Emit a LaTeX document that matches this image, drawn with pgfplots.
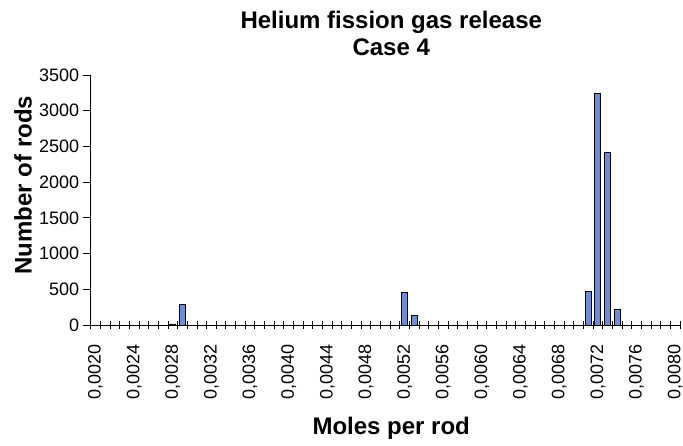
\documentclass[border=0pt]{standalone}
\usepackage{pgfplots}
\pgfplotsset{compat=1.18}
\usepackage{fontspec}
\setmainfont{Liberation Sans}

\definecolor{barblue}{RGB}{106,141,214}

% category index k stands for 0.0020 + k*0.0001 moles per rod
\pgfplotstableread{
k count
8 15
9 290
32 450
33 130
51 465
52 3240
53 2410
54 215
}\rods

\begin{document}
\begin{tikzpicture}
\begin{axis}[
    scale only axis,
    width=589.3pt, height=250pt,
    clip=false,
    xmin=-0.5, xmax=60.5,
    ymin=0, ymax=3500,
    ybar, bar width=0.62,
    axis x line=bottom, axis y line=left,
    axis line style={-, line width=0.9pt},
    xtick={-0.5,0.5,...,60.5},
    x tick label as interval,
    xticklabels={{0,0020},{},{},{},{0,0024},{},{},{},{0,0028},{},{},{},{0,0032},{},{},{},
                 {0,0036},{},{},{},{0,0040},{},{},{},{0,0044},{},{},{},{0,0048},{},{},{},
                 {0,0052},{},{},{},{0,0056},{},{},{},{0,0060},{},{},{},{0,0064},{},{},{},
                 {0,0068},{},{},{},{0,0072},{},{},{},{0,0076},{},{},{},{0,0080}},
    ytick={0,500,...,3500},
    xtick align=center, ytick align=outside,
    major tick length=8pt,
    tick style={black, line width=0.9pt},
    xticklabel shift=12pt,
    x tick label style={rotate=90, anchor=east, font=\fontsize{18}{20}\selectfont},
    y tick label style={font=\fontsize{18}{20}\selectfont},
    /pgf/number format/assume math mode=true,
    /pgf/number format/1000 sep={},
]
\addplot[fill=barblue, draw=black, line width=0.8pt] table[x=k, y=count] {\rods};
\coordinate (bl) at (rel axis cs:0,0);
\node[anchor=base, font=\bfseries\fontsize{24}{28}\selectfont, yshift=46.5pt]
    at (rel axis cs:0.51,1) {Helium fission gas release};
\node[anchor=base, font=\bfseries\fontsize{24}{28}\selectfont, yshift=19pt]
    at (rel axis cs:0.51,1) {Case 4};
\node[anchor=base, font=\bfseries\fontsize{24}{28}\selectfont]
    at ([yshift=-110pt]rel axis cs:0.51,0) {Moles per rod};
\node[anchor=base, rotate=90, font=\bfseries\fontsize{24}{28}\selectfont]
    at ([xshift=-59pt]rel axis cs:0,0.56) {Number of rods};
\end{axis}
\pgfresetboundingbox
\path (bl) +(-90.7pt,-121pt) rectangle +(592.3pt,325pt);
\end{tikzpicture}
\end{document}
